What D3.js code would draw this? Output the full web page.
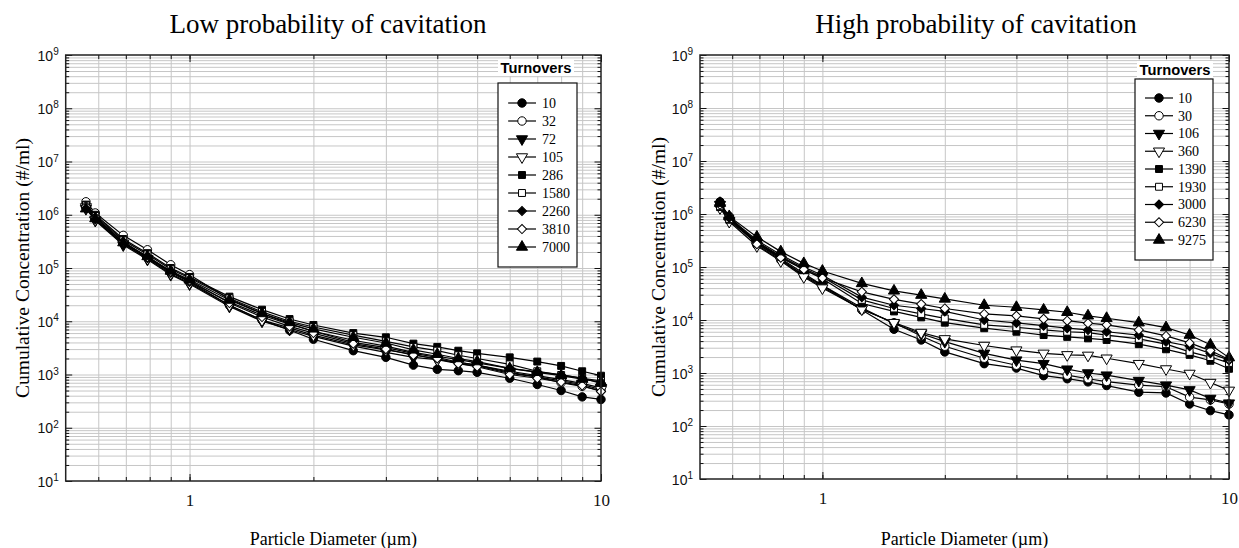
<!DOCTYPE html>
<html>
<head>
<meta charset="utf-8">
<script src="https://cdn.jsdelivr.net/npm/d3@7"></script>
<style>
body { margin: 0; background: #fff; }
</style>
</head>
<body>
<svg></svg>
<script>
const width = 1239, height = 548;

// particle diameter bins (um), shared by both panels
const diameters = [0.56, 0.59, 0.69, 0.79, 0.9, 1, 1.25, 1.5, 1.75, 2, 2.5, 3, 3.5, 4, 4.5, 5, 6, 7, 8, 9, 10];

const decadeTicks = [1e1, 1e2, 1e3, 1e4, 1e5, 1e6, 1e7, 1e8, 1e9];
const xTickLabels = [1, 10];

// low probability of cavitation - cumulative concentration (#/ml)
const lowTurnovers = ["10", "32", "72", "105", "286", "1580", "2260", "3810", "7000"];
const low10   = [1.4e6, 9.0e5, 3.0e5, 1.6e5, 8.5e4, 5.5e4, 2.0e4, 1.05e4, 6.8e3, 4.6e3, 2.8e3, 2.1e3, 1.5e3, 1.25e3, 1.18e3, 1.1e3, 850, 650, 500, 380, 340];
const low32   = [1.75e6, 1.08e6, 4.1e5, 2.2e5, 1.15e5, 7.5e4, 2.6e4, 1.4e4, 9.0e3, 6.5e3, 4.0e3, 3.2e3, 2.5e3, 2.1e3, 1.7e3, 1.5e3, 1.1e3, 900, 700, 600, 500];
const low72   = [1.3e6, 7.8e5, 2.7e5, 1.45e5, 7.5e4, 5.0e4, 1.9e4, 1.0e4, 7.0e3, 5.2e3, 3.4e3, 2.6e3, 2.1e3, 1.9e3, 1.7e3, 1.5e3, 1.15e3, 950, 800, 680, 560];
const low105  = [1.4e6, 8.0e5, 2.9e5, 1.5e5, 7.8e4, 5.2e4, 2.0e4, 1.05e4, 7.5e3, 5.5e3, 3.6e3, 2.9e3, 2.4e3, 1.9e3, 1.6e3, 1.45e3, 1.05e3, 900, 760, 650, 520];
const low286  = [1.55e6, 1.0e6, 3.5e5, 1.9e5, 1.0e5, 6.8e4, 2.9e4, 1.65e4, 1.1e4, 8.5e3, 6.0e3, 5.0e3, 3.8e3, 3.3e3, 2.8e3, 2.5e3, 2.1e3, 1.75e3, 1.45e3, 1.15e3, 950];
const low1580 = [1.5e6, 9.5e5, 3.3e5, 1.8e5, 9.5e4, 6.5e4, 2.7e4, 1.5e4, 1.0e4, 7.8e3, 5.5e3, 4.2e3, 3.3e3, 2.8e3, 2.3e3, 2.0e3, 1.55e3, 1.15e3, 980, 850, 760];
const low2260 = [1.35e6, 8.2e5, 2.8e5, 1.55e5, 8.2e4, 5.5e4, 2.3e4, 1.3e4, 8.8e3, 6.5e3, 4.4e3, 3.4e3, 2.6e3, 2.2e3, 1.9e3, 1.65e3, 1.3e3, 1.12e3, 980, 860, 680];
const low3810 = [1.45e6, 9.0e5, 3.1e5, 1.6e5, 8.5e4, 5.8e4, 2.2e4, 1.2e4, 8.0e3, 6.0e3, 3.8e3, 3.0e3, 2.3e3, 2.0e3, 1.6e3, 1.4e3, 1.0e3, 850, 720, 620, 480];
const low7000 = [1.3e6, 8.5e5, 3.0e5, 1.65e5, 8.8e4, 6.0e4, 2.5e4, 1.4e4, 9.5e3, 7.2e3, 5.0e3, 3.9e3, 2.9e3, 2.4e3, 2.0e3, 1.75e3, 1.3e3, 1.1e3, 950, 820, 720];

// high probability of cavitation
const highTurnovers = ["10", "30", "106", "360", "1390", "1930", "3000", "6230", "9275"];
const high10   = [1.7e6, 8.2e5, 3.0e5, 1.45e5, 7.5e4, 4.5e4, 1.55e4, 6.7e3, 4.2e3, 2.5e3, 1.5e3, 1.24e3, 890, 780, 680, 580, 435, 420, 260, 195, 162];
const high30   = [1.45e6, 9.0e5, 2.6e5, 1.35e5, 6.8e4, 4.2e4, 1.6e4, 8.9e3, 5.0e3, 3.2e3, 1.9e3, 1.4e3, 1.1e3, 910, 780, 690, 590, 550, 350, 310, 260];
const high106  = [1.5e6, 7.5e5, 2.8e5, 1.4e5, 7.0e4, 4.5e4, 1.7e4, 8.5e3, 5.5e3, 3.9e3, 2.35e3, 1.75e3, 1.5e3, 1.18e3, 1.0e3, 910, 720, 590, 480, 330, 270];
const high360  = [1.3e6, 7.2e5, 2.5e5, 1.3e5, 6.5e4, 4.0e4, 1.6e4, 8.9e3, 5.8e3, 4.4e3, 3.3e3, 2.7e3, 2.35e3, 2.2e3, 2.15e3, 1.9e3, 1.5e3, 1.19e3, 980, 660, 470];
const high1390 = [1.35e6, 7.8e5, 2.9e5, 1.55e5, 9.0e4, 6.0e4, 2.05e4, 1.45e4, 1.12e4, 8.9e3, 7.0e3, 6.0e3, 5.2e3, 4.8e3, 4.5e3, 4.2e3, 3.5e3, 2.8e3, 2.2e3, 1.7e3, 1.2e3];
const high1930 = [1.4e6, 8.0e5, 3.0e5, 1.6e5, 9.5e4, 6.5e4, 2.4e4, 1.65e4, 1.3e4, 1.07e4, 8.1e3, 7.3e3, 6.5e3, 6.0e3, 5.8e3, 5.2e3, 4.4e3, 3.5e3, 2.5e3, 2.0e3, 1.55e3];
const high3000 = [1.65e6, 8.5e5, 3.2e5, 1.7e5, 1.0e5, 7.0e4, 2.7e4, 1.9e4, 1.65e4, 1.45e4, 1.0e4, 8.8e3, 7.8e3, 7.0e3, 6.5e3, 6.0e3, 5.2e3, 3.9e3, 3.2e3, 2.35e3, 1.75e3];
const high6230 = [1.5e6, 9.2e5, 2.7e5, 1.5e5, 9.0e4, 6.2e4, 3.4e4, 2.45e4, 2.0e4, 1.65e4, 1.3e4, 1.2e4, 1.05e4, 9.7e3, 8.7e3, 8.1e3, 6.5e3, 5.0e3, 3.7e3, 2.65e3, 1.8e3];
const high9275 = [1.6e6, 9.0e5, 3.7e5, 1.95e5, 1.17e5, 8.4e4, 4.9e4, 3.55e4, 2.95e4, 2.5e4, 1.9e4, 1.74e4, 1.55e4, 1.4e4, 1.2e4, 1.08e4, 8.9e3, 7.2e3, 5.2e3, 3.4e3, 1.95e3];

const lowSeries = [low10, low32, low72, low105, low286, low1580, low2260, low3810, low7000];
const highSeries = [high10, high30, high106, high360, high1390, high1930, high3000, high6230, high9275];

// marker for each legend slot (same order in both panels)
const shapes = [
    {sym: d3.symbolCircle, size: 56, rot: 0, fill: "black"},
    {sym: d3.symbolCircle, size: 56, rot: 0, fill: "white"},
    {sym: d3.symbolTriangle, size: 54, rot: 180, fill: "black"},
    {sym: d3.symbolTriangle, size: 54, rot: 180, fill: "white"},
    {sym: d3.symbolSquare, size: 48, rot: 0, fill: "black"},
    {sym: d3.symbolSquare, size: 48, rot: 0, fill: "white"},
    {sym: d3.symbolSquare, size: 42, rot: 45, fill: "black"},
    {sym: d3.symbolSquare, size: 42, rot: 45, fill: "white"},
    {sym: d3.symbolTriangle, size: 54, rot: 0, fill: "black"}
];

const serif = "'Liberation Serif', 'Times New Roman', serif";
const sans = "'Liberation Sans', Arial, sans-serif";

const svg = d3.select("svg")
    .attr("width", width)
    .attr("height", height);

const panels = [
    {left: 65.7, right: 601, top: 55, bottom: 481, title: "Low probability of cavitation", titleX: 328,
     yLabelX: 22, names: lowTurnovers, series: lowSeries,
     legend: {x: 498, y: 83, w: 79, h: 184, titleX: 536, titleY: 68, row0: 103, step: 18, lineX: 508, textX: 542}},
    {left: 700, right: 1229, top: 55, bottom: 479, title: "High probability of cavitation", titleX: 976,
     yLabelX: 658, names: highTurnovers, series: highSeries,
     legend: {x: 1135, y: 79, w: 78, h: 181, titleX: 1175, titleY: 70, row0: 98, step: 17.75, lineX: 1145, textX: 1178}}
];

function drawMarker(sel, s) {
    sel.attr("d", d3.symbol().type(s.sym).size(s.size)())
        .attr("fill", s.fill)
        .attr("stroke", "black")
        .attr("stroke-width", 1);
}

panels.forEach(p => {
    const g = svg.append("g");
    const w = p.right - p.left, h = p.bottom - p.top;

    const x = d3.scaleLog().domain([0.5, 10]).range([p.left, p.right]);
    const y = d3.scaleLog().domain([10, 1e9]).range([p.bottom, p.top]);

    const xMinor = x.ticks().filter(v => v > 0.5 && v < 10);
    const yMinor = y.ticks().filter(v => !decadeTicks.includes(v));

    // grid
    const gx = g.append("g")
        .attr("transform", `translate(0, ${p.bottom})`)
        .call(d3.axisBottom(x).tickValues(xMinor).tickSize(-h).tickFormat(""));
    const gy = g.append("g")
        .attr("transform", `translate(${p.left}, 0)`)
        .call(d3.axisLeft(y).tickValues(y.ticks().filter(v => v > 10 && v < 1e9)).tickSize(-w).tickFormat(""));
    [gx, gy].forEach(a => {
        a.select(".domain").remove();
        a.selectAll("line").attr("stroke", "#c6c6c6").attr("stroke-width", 1);
    });

    // inward ticks on all four sides
    const tickAxes = [
        [d3.axisLeft(y).tickValues(yMinor).tickSize(-3.5), `translate(${p.left}, 0)`],
        [d3.axisLeft(y).tickValues(decadeTicks).tickSize(-6.5), `translate(${p.left}, 0)`],
        [d3.axisRight(y).tickValues(yMinor).tickSize(-3.5), `translate(${p.right}, 0)`],
        [d3.axisRight(y).tickValues(decadeTicks).tickSize(-6.5), `translate(${p.right}, 0)`],
        [d3.axisBottom(x).tickValues(xMinor).tickSize(-4), `translate(0, ${p.bottom})`],
        [d3.axisTop(x).tickValues(xMinor).tickSize(-4), `translate(0, ${p.top})`],
        [d3.axisBottom(x).tickValues(xTickLabels).tickSize(-7), `translate(0, ${p.bottom})`],
        [d3.axisTop(x).tickValues(xTickLabels).tickSize(-7), `translate(0, ${p.top})`]
    ];
    tickAxes.forEach(([ax, tr]) => {
        const a = g.append("g").attr("transform", tr).call(ax.tickFormat(""));
        a.select(".domain").remove();
        a.selectAll("line").attr("stroke", "#111").attr("stroke-width", 1);
    });

    // y tick labels, 10 with exponent
    const yl = g.append("g")
        .attr("transform", `translate(${p.left}, 0)`)
        .call(d3.axisLeft(y).tickValues(decadeTicks).tickSize(0).tickPadding(7).tickFormat(""));
    yl.select(".domain").remove();
    yl.selectAll("text").each(function(d) {
        const t = d3.select(this)
            .attr("font-family", sans)
            .attr("font-size", "14px")
            .attr("fill", "#111")
            .attr("dy", "0.36em");
        t.append("tspan").text("10");
        t.append("tspan").attr("dy", -5.5).attr("font-size", "10px").text(Math.round(Math.log10(d)));
    });

    // x tick labels
    const xl = g.append("g")
        .attr("transform", `translate(0, ${p.bottom})`)
        .call(d3.axisBottom(x).tickValues(xTickLabels).tickSize(0).tickPadding(13).tickFormat(d3.format("d")));
    xl.select(".domain").remove();
    xl.selectAll("text")
        .attr("font-family", serif)
        .attr("font-size", "17px")
        .attr("fill", "#111");

    // series
    const line = d3.line()
        .x((d, i) => x(diameters[i]))
        .y(d => y(d));

    p.series.forEach((vals, k) => {
        g.append("path")
            .attr("d", line(vals))
            .attr("fill", "none")
            .attr("stroke", "black")
            .attr("stroke-width", 1.2);
        g.selectAll(null)
            .data(vals)
            .enter().append("path")
            .attr("transform", (d, i) => `translate(${x(diameters[i])}, ${y(d)}) rotate(${shapes[k].rot})`)
            .call(drawMarker, shapes[k]);
    });

    // frame
    g.append("rect")
        .attr("x", p.left).attr("y", p.top)
        .attr("width", w).attr("height", h)
        .attr("fill", "none")
        .attr("stroke", "#222")
        .attr("stroke-width", 1.5);

    // titles
    g.append("text")
        .attr("x", p.titleX).attr("y", 33)
        .attr("text-anchor", "middle")
        .attr("font-family", serif)
        .attr("font-size", "27px")
        .text(p.title);

    g.append("text")
        .attr("transform", `translate(${p.yLabelX}, ${(p.top + p.bottom) / 2}) rotate(-90)`)
        .attr("text-anchor", "middle")
        .attr("dy", "0.35em")
        .attr("font-family", serif)
        .attr("font-size", "19.5px")
        .text("Cumulative Concentration (#/ml)");

    g.append("text")
        .attr("x", (p.left + p.right) / 2).attr("y", 545)
        .attr("text-anchor", "middle")
        .attr("font-family", serif)
        .attr("font-size", "18px")
        .text("Particle Diameter (\u00b5m)");

    // legend
    const L = p.legend;
    const lg = g.append("g");
    lg.append("rect")
        .attr("x", L.x).attr("y", L.y)
        .attr("width", L.w).attr("height", L.h)
        .attr("fill", "white")
        .attr("stroke", "#111")
        .attr("stroke-width", 1.2);
    lg.append("rect")
        .attr("x", L.titleX - 38).attr("y", L.titleY - 9)
        .attr("width", 76).attr("height", 17)
        .attr("fill", "white");
    lg.append("text")
        .attr("x", L.titleX).attr("y", L.titleY)
        .attr("dy", "0.36em")
        .attr("text-anchor", "middle")
        .attr("font-family", sans)
        .attr("font-weight", "bold")
        .attr("font-size", "15px")
        .attr("textLength", 71)
        .attr("lengthAdjust", "spacingAndGlyphs")
        .text("Turnovers");

    const rows = lg.selectAll(".legend-item")
        .data(p.names)
        .enter().append("g")
        .attr("class", "legend-item")
        .attr("transform", (d, i) => `translate(0, ${L.row0 + i * L.step})`);
    rows.append("line")
        .attr("x1", L.lineX).attr("x2", L.lineX + 28)
        .attr("stroke", "black").attr("stroke-width", 1.2);
    rows.append("path")
        .each(function(d, i) {
            d3.select(this)
                .attr("transform", `translate(${L.lineX + 14}, 0) rotate(${shapes[i].rot})`)
                .call(drawMarker, shapes[i]);
        });
    rows.append("text")
        .attr("x", L.textX)
        .attr("dy", "0.35em")
        .attr("font-family", serif)
        .attr("font-size", "14px")
        .text(d => d);
});
</script>
</body>
</html>
